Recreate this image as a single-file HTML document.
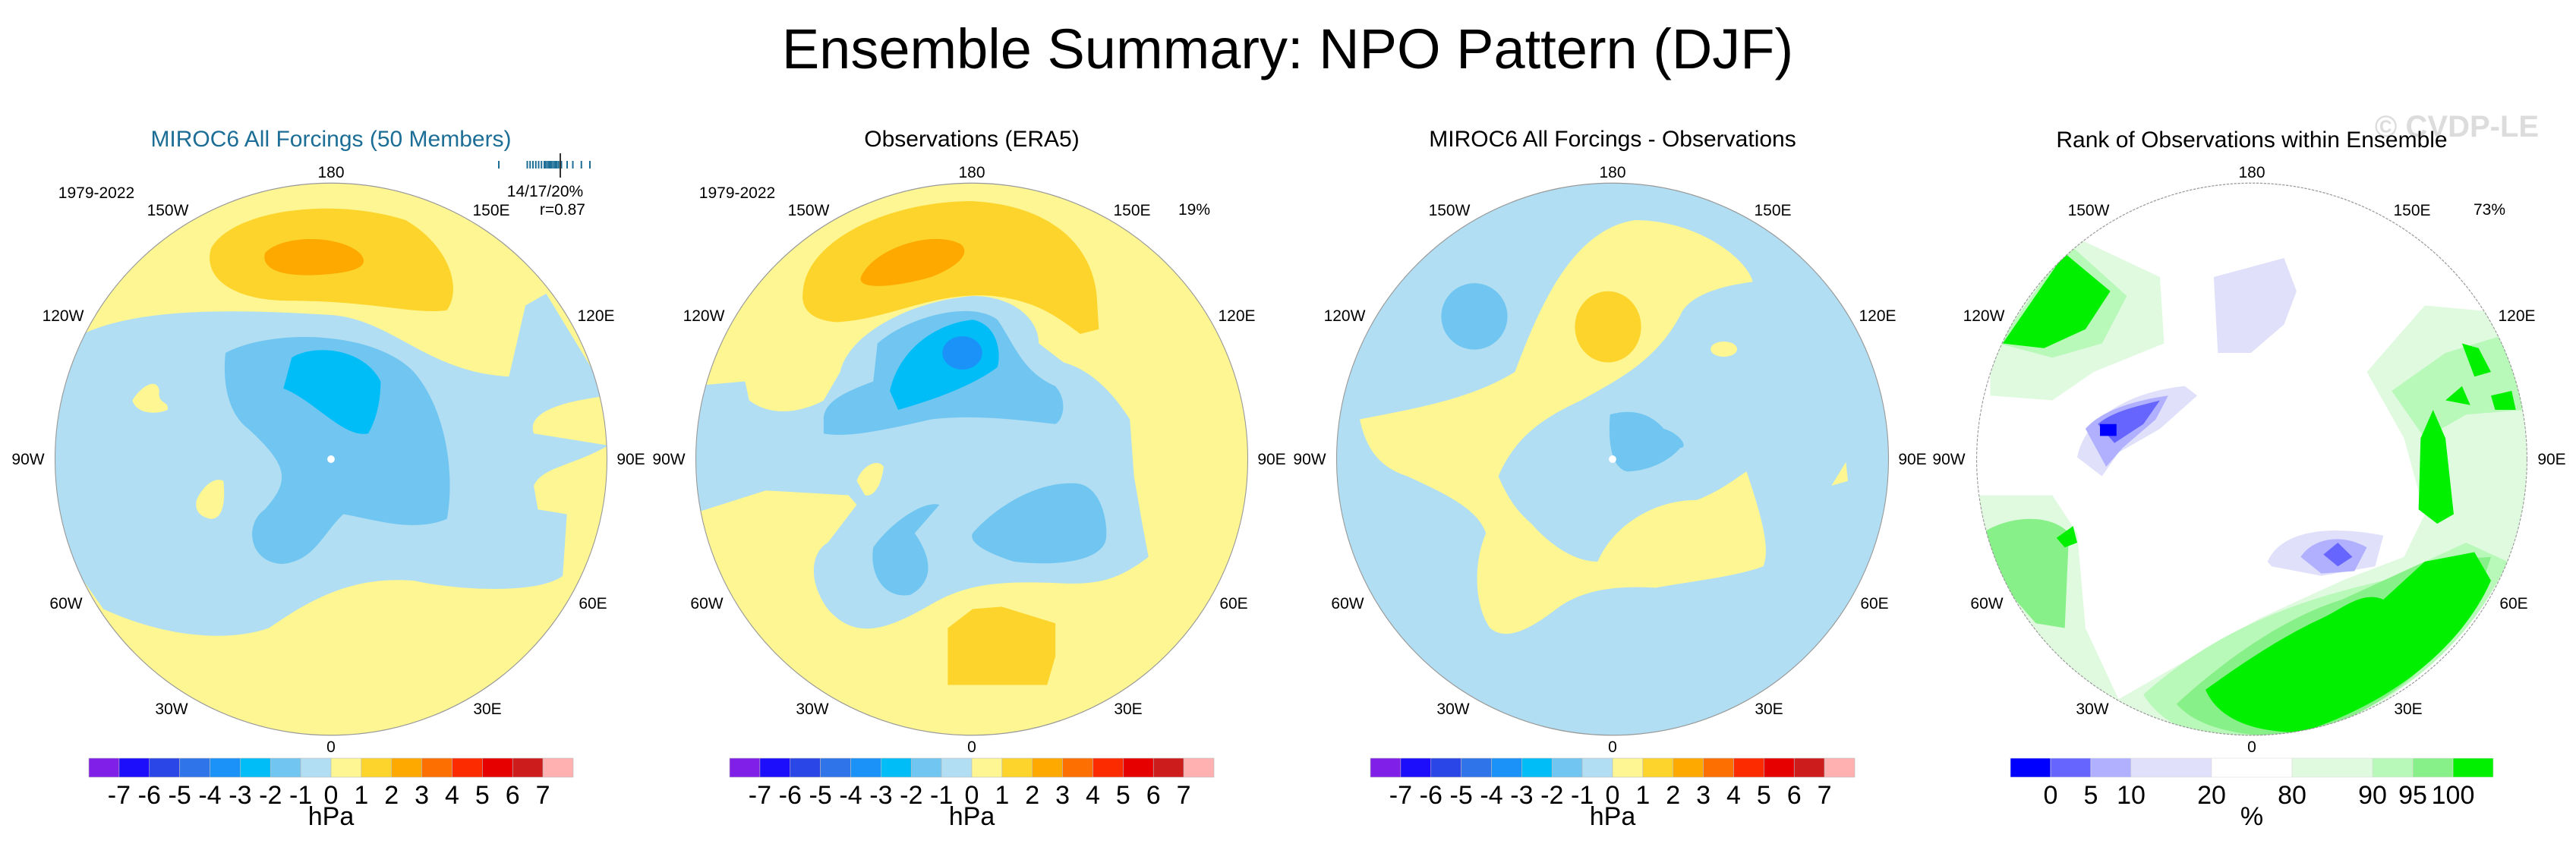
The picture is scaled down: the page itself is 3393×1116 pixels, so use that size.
<!DOCTYPE html>
<html><head><meta charset="utf-8"><style>
body{margin:0;background:#fff;}
svg{display:block;font-family:"Liberation Sans",sans-serif;}
</style></head><body>
<svg id="chart" width="3393" height="1116" viewBox="0 0 3393 1116">
<text x="1696" y="90" font-size="74" text-anchor="middle">Ensemble Summary: NPO Pattern (DJF)</text>
<text x="3236" y="180" font-size="40" font-weight="bold" fill="#dcdcdc" text-anchor="middle">© CVDP-LE</text>
<defs>
<clipPath id="c1"><ellipse cx="800" cy="744" rx="667" ry="582"/></clipPath>
<clipPath id="c2"><ellipse cx="798" cy="744" rx="667" ry="582"/></clipPath>
<clipPath id="c3"><ellipse cx="796" cy="744" rx="667" ry="582"/></clipPath>
<clipPath id="c4"><ellipse cx="782" cy="744" rx="665" ry="582"/></clipPath>
</defs>

<!-- Panel 1 -->
<g>
<g transform="translate(436,605) scale(0.545,0.625) translate(-800,-744)">
<g clip-path="url(#c1)">
<rect x="0" y="0" width="1600" height="1500" fill="#fdf693"/>
<path fill="#b1def2" d="M 120,650 L 200,480 C 350,420 600,430 800,440 C 950,450 1030,560 1230,570 L 1270,420 L 1320,395 L 1470,610 C 1380,620 1270,640 1290,690 L 1470,715 C 1380,760 1310,760 1290,800 L 1300,850 L 1370,860 L 1360,990 C 1300,1030 1100,1020 1000,1000 C 850,990 750,1040 650,1100 C 550,1130 400,1120 250,1060 L 120,900 Z"/>
<path fill="#fdf693" d="M 320,620 C 340,590 380,570 385,600 C 380,630 410,620 405,640 C 380,650 330,650 320,620 Z"/>
<path fill="#fdf693" d="M 475,830 C 490,800 520,780 540,790 C 545,830 540,870 510,870 C 480,865 470,850 475,830 Z"/>
<path fill="#70c6f0" d="M 545,520 C 650,470 900,470 1000,560 C 1080,640 1100,780 1080,870 C 1000,900 900,870 830,860 C 780,900 760,960 680,965 C 600,960 590,880 640,850 C 700,790 700,760 600,680 C 540,640 540,560 545,520 Z"/>
<path fill="#00bdf7" d="M 705,530 C 760,500 880,510 920,580 C 920,620 910,660 890,690 C 830,700 760,620 685,595 Z"/>
<path fill="#fdd42b" d="M 510,300 C 560,220 800,190 980,240 C 1080,290 1120,380 1080,430 C 1000,440 900,410 700,410 C 560,410 490,360 510,300 Z"/>
<path fill="#fda900" d="M 640,310 C 680,270 820,270 870,310 C 900,340 850,350 780,355 C 700,360 630,350 640,310 Z"/>
<ellipse cx="800" cy="744" rx="9" ry="8" fill="#fff"/>
</g>
<ellipse cx="800" cy="744" rx="667" ry="582" fill="none" stroke="#999" stroke-width="2"/>
</g>
<text x="436" y="193" font-size="30" fill="#1c6e96" text-anchor="middle">MIROC6 All Forcings (50 Members)</text>
<text x="127" y="261" font-size="21" text-anchor="middle">1979-2022</text>
<text x="718" y="259" font-size="21" text-anchor="middle">14/17/20%</text>
<text x="771" y="283" font-size="21" text-anchor="end">r=0.87</text>
<g id="spread-ticks" stroke="#1c6e96" stroke-width="2"></g>
</g>

<!-- Panel 2 -->
<g>
<g transform="translate(1280,605) scale(0.545,0.625) translate(-798,-744)">
<g clip-path="url(#c2)">
<rect x="0" y="0" width="1600" height="1500" fill="#fdf693"/>
<path fill="#fdd42b" d="M 390,390 C 400,280 600,200 800,200 C 1000,210 1090,300 1100,400 L 1105,470 L 1060,480 C 1000,440 950,410 850,400 C 700,390 600,450 470,455 C 400,450 385,420 390,390 Z"/>
<path fill="#fda900" d="M 530,360 C 560,300 700,260 770,290 C 800,310 760,340 700,360 C 620,380 520,390 530,360 Z"/>
<path fill="#b1def2" d="M 120,590 L 250,580 L 260,620 C 320,660 400,640 440,620 L 480,560 C 500,480 650,410 800,400 C 900,400 960,450 960,500 L 1020,540 C 1100,560 1150,620 1180,660 L 1190,780 L 1210,880 L 1225,950 C 1150,1000 1100,1010 1000,1005 C 850,1000 780,1010 700,1050 C 600,1100 520,1130 450,1060 C 400,1000 410,940 450,920 L 520,840 L 500,820 L 300,810 L 120,860 Z"/>
<path fill="#fdf693" d="M 520,790 C 530,760 570,740 585,760 C 580,800 560,825 540,820 Z"/>
<path fill="#70c6f0" d="M 440,660 C 440,620 500,600 560,580 L 570,500 C 650,440 800,410 860,450 C 900,500 920,560 1000,590 C 1030,620 1020,660 1000,670 C 900,660 800,650 700,660 C 600,680 500,700 440,690 Z"/>
<path fill="#00bdf7" d="M 600,600 C 620,520 700,460 800,450 C 860,460 870,520 860,550 C 800,590 700,620 620,640 Z"/>
<ellipse cx="775" cy="520" rx="48" ry="35" fill="#1b92f7"/>
<path fill="#70c6f0" d="M 560,930 C 600,880 680,830 720,840 L 660,900 C 700,950 710,1000 650,1030 C 580,1040 550,980 560,930 Z"/>
<path fill="#70c6f0" d="M 800,900 C 850,850 950,790 1050,795 C 1120,800 1130,900 1120,920 C 1100,960 1000,970 900,960 C 830,940 790,920 800,900 Z"/>
<path fill="#fdd42b" d="M 740,1100 L 800,1060 L 870,1055 L 1000,1090 L 1000,1160 L 980,1220 L 740,1220 Z"/>
</g>
<ellipse cx="798" cy="744" rx="667" ry="582" fill="none" stroke="#999" stroke-width="2"/>
</g>
<text x="1280" y="193" font-size="30" text-anchor="middle">Observations (ERA5)</text>
<text x="971" y="261" font-size="21" text-anchor="middle">1979-2022</text>
<text x="1594" y="283" font-size="21" text-anchor="end">19%</text>
</g>

<!-- Panel 3 -->
<g>
<g transform="translate(2124,605) scale(0.545,0.625) translate(-796,-744)">
<g clip-path="url(#c3)">
<rect x="0" y="0" width="1600" height="1500" fill="#b1def2"/>
<path fill="#fdf693" d="M 185,660 C 300,640 450,620 560,560 C 620,420 700,260 850,240 C 1000,240 1120,320 1135,370 C 1050,380 980,400 960,440 C 900,540 800,580 720,620 C 620,660 560,700 520,780 C 540,820 560,850 600,880 C 640,920 700,960 760,960 C 800,880 900,830 1000,830 C 1060,810 1100,780 1120,770 C 1150,850 1180,930 1160,970 C 1100,990 1000,1000 900,1015 C 800,1010 720,1020 660,1060 C 600,1100 540,1130 500,1100 C 460,1050 460,960 490,900 C 470,850 400,820 300,780 C 230,760 200,720 185,660 Z"/>
<ellipse cx="785" cy="465" rx="80" ry="75" fill="#fdd42b"/>
<ellipse cx="462" cy="443" rx="80" ry="70" fill="#70c6f0"/>
<path fill="#70c6f0" d="M 790,650 C 830,640 880,640 920,680 C 960,690 980,720 960,720 C 920,760 860,770 830,770 C 790,760 785,700 790,650 Z"/>
<ellipse cx="1065" cy="512" rx="32" ry="16" fill="#fdf693"/>
<path fill="#fdf693" d="M 1325,800 L 1360,750 L 1365,790 Z"/>
<ellipse cx="796" cy="744" rx="9" ry="8" fill="#fff"/>
</g>
<ellipse cx="796" cy="744" rx="667" ry="582" fill="none" stroke="#999" stroke-width="2"/>
</g>
<text x="2124" y="193" font-size="30" text-anchor="middle">MIROC6 All Forcings - Observations</text>
</g>

<!-- Panel 4 -->
<g>
<g transform="translate(2966,605) scale(0.545,0.625) translate(-782,-744)">
<g clip-path="url(#c4)">
<rect x="0" y="0" width="1600" height="1500" fill="#ffffff"/>
<path fill="#e0fae0" d="M 150,520 L 340,270 L 560,360 L 570,500 L 400,560 L 300,620 L 150,610 Z"/>
<path fill="#b8f8b8" d="M 170,500 L 340,290 L 480,400 L 420,500 L 300,530 Z"/>
<path fill="#00f000" d="M 180,500 L 330,310 L 440,390 L 380,470 L 280,510 Z"/>
<path fill="#e0fae0" d="M 110,820 L 300,820 L 360,900 L 380,1100 L 460,1250 L 600,1180 L 800,1080 L 1000,1000 L 1150,950 L 1200,860 L 1150,700 L 1060,560 L 1200,420 L 1450,440 L 1460,900 L 1300,1100 L 1000,1340 L 500,1340 L 200,1100 Z"/>
<path fill="#88f088" d="M 130,900 C 200,860 300,860 340,900 L 330,1100 L 260,1090 L 170,1000 Z"/>
<path fill="#b8f8b8" d="M 1120,600 L 1250,520 L 1400,480 L 1440,640 L 1300,650 L 1200,700 Z"/>
<path fill="#b8f8b8" d="M 520,1240 C 700,1100 900,1040 1100,1000 L 1300,920 L 1400,960 C 1300,1150 1100,1300 800,1340 C 650,1340 560,1300 520,1240 Z"/>
<path fill="#88f088" d="M 600,1260 C 700,1180 850,1080 1000,1040 L 1200,960 L 1360,950 C 1300,1120 1150,1260 900,1330 C 750,1330 650,1310 600,1260 Z"/>
<path fill="#00f000" d="M 670,1230 C 750,1180 850,1120 950,1080 C 1000,1060 1050,1020 1100,1040 L 1200,960 L 1320,940 L 1360,1000 C 1300,1120 1150,1250 900,1320 C 780,1320 700,1290 670,1230 Z"/>
<path fill="#00f000" d="M 1190,700 L 1220,640 L 1250,700 L 1270,860 L 1230,880 L 1185,850 Z"/>
<path fill="#00f000" d="M 1290,500 L 1330,510 L 1360,560 L 1320,570 Z M 1250,620 L 1290,590 L 1310,630 Z M 1360,610 L 1410,600 L 1420,640 L 1370,640 Z M 310,910 L 350,885 L 360,920 L 330,930 Z"/>
<path fill="#e0e0fa" d="M 690,360 L 860,320 L 890,390 L 860,460 L 780,520 L 700,520 Z"/>
<path fill="#e0e0fa" d="M 360,740 C 380,650 500,600 620,590 L 650,610 L 560,680 L 460,730 L 420,780 Z"/>
<path fill="#b0b0ff" d="M 380,680 C 420,640 500,620 580,610 L 550,660 L 470,720 L 430,760 Z"/>
<path fill="#6666ff" d="M 410,670 C 450,640 520,630 560,620 L 520,670 L 450,710 Z"/>
<rect x="415" y="670" width="40" height="25" fill="#0000ff"/>
<path fill="#e0e0fa" d="M 820,960 C 850,900 950,880 1100,905 L 1080,970 L 950,990 L 830,970 Z"/>
<path fill="#b0b0ff" d="M 900,950 C 930,910 1000,900 1060,930 L 1030,980 L 950,985 Z"/>
<path fill="#6666ff" d="M 955,945 L 990,920 L 1025,950 L 990,970 Z"/>
</g>
<ellipse cx="782" cy="744" rx="665" ry="582" fill="none" stroke="#999" stroke-width="2" stroke-dasharray="6 3"/>
</g>
<text x="2966" y="194" font-size="30" text-anchor="middle">Rank of Observations within Ensemble</text>
<text x="3300" y="283" font-size="21" text-anchor="end">73%</text>
</g>

<g id="lonlabels" font-size="21" text-anchor="middle"></g>
<g id="colorbars"></g>
</svg>
<script>
const lonNames = ["180","150W","150E","120W","120E","90W","90E","60W","60E","30W","30E","0"];
const hpaColors = ["#7f1fe8","#1c0dfa","#2a46e6","#2f74e8","#1b92f7","#00bcf7","#70c6f0","#b1def2","#fdf693","#fdd42b","#fda900","#fd6f00","#fd2c00","#e60000","#cc1c1c","#ffb0b0"];
const hpaTicks = ["-7","-6","-5","-4","-3","-2","-1","0","1","2","3","4","5","6","7"];
const rankColors = ["#0000ff","#6666ff","#b0b0ff","#e0e0fa","#ffffff","#e0fae0","#b8f8b8","#88f088","#00f000"];
const rankUnits = [1,1,1,2,2,2,1,1,1];
const rankTicks = ["0","5","10","20","80","90","95","100"];
const spreadValues = [-0.2,0.3,0.35,0.4,0.45,0.5,0.55,0.6,0.62,0.65,0.68,0.7,0.72,0.75,0.78,0.8,0.82,0.85,0.88,0.9,1.0,1.1,1.25,1.4];
const NS="http://www.w3.org/2000/svg";
function mk(tag,attrs,parent){const e=document.createElementNS(NS,tag);for(const k in attrs)e.setAttribute(k,attrs[k]);parent.appendChild(e);return e;}
const centers=[436,1280,2124,2966];
const lonOff=[[0,-378],[-215,-328],[211,-328],[-353,-189],[349,-189],[-399,0],[395,0],[-349,190],[345,190],[-210,329],[206,329],[0,379]];
const lg=document.getElementById('lonlabels');
centers.forEach((cx,p)=>{
  lonNames.forEach((n,i)=>{
    const t=mk('text',{x:cx+lonOff[i][0],y:605+lonOff[i][1]+7},lg);
    
    
    t.textContent=n;
  });
});
const cb=document.getElementById('colorbars');
for(let p=0;p<3;p++){
  const g=mk('g',{},cb);
  
  
  const x0=centers[p]-319, w=638/hpaColors.length;
  hpaColors.forEach((c,i)=>{
    const r=mk('rect',{x:x0+i*w,y:999,width:w,height:25,fill:c,stroke:'#bbb','stroke-width':0.6},g);
    
    
  });
  hpaTicks.forEach((t,i)=>{
    const e=mk('text',{x:x0+(i+1)*w,y:1059,'font-size':34,'text-anchor':'middle'},g);
    
    
    e.textContent=t;
  });
  const u=mk('text',{x:centers[p],y:1087,'font-size':34,'text-anchor':'middle'},g);
  
  
  u.textContent='hPa';
}
{
  const g=mk('g',{},cb);
  
  
  const total=rankUnits.reduce((a,b)=>a+b,0);
  const x0=centers[3]-318, uw=636/total;
  let x=x0; const bounds=[];
  rankColors.forEach((c,i)=>{
    const w=rankUnits[i]*uw;
    const r=mk('rect',{x:x,y:999,width:w,height:25,fill:c,stroke:'#ddd','stroke-width':0.6},g);
    
    
    x+=w; bounds.push(x);
  });
  rankTicks.forEach((t,i)=>{
    const e=mk('text',{x:bounds[i],y:1059,'font-size':34,'text-anchor':'middle'},g);
    
    
    e.textContent=t;
  });
  const u=mk('text',{x:centers[3],y:1087,'font-size':34,'text-anchor':'middle'},g);
  
  
  u.textContent='%';
}
{
  const g=document.getElementById('spread-ticks');
  const sx=v=>657+(v+0.2)*(120/1.6);
  spreadValues.forEach(v=>{
    const l=mk('line',{x1:sx(v),x2:sx(v),y1:212,y2:222},g);
    
    
  });
  const m=mk('line',{x1:sx(0.88),x2:sx(0.88),y1:202,y2:234,stroke:'#333'},g);
  
  
}
</script>
</body></html>
